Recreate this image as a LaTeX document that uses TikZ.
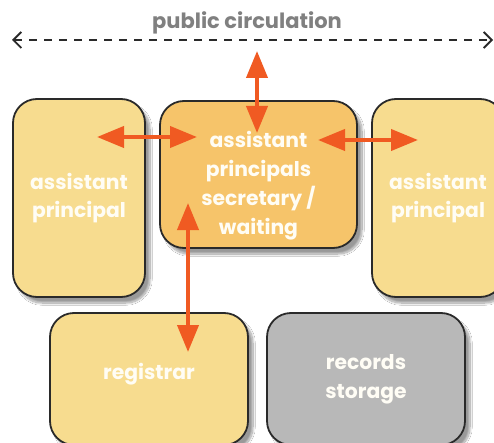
\documentclass[tikz,border=0pt]{standalone}
\usepackage{fontspec}
\setmainfont{Poppins}
\usetikzlibrary{arrows.meta,shadows.blur}
\definecolor{apfill}{HTML}{F7DC8F}
\definecolor{ctrfill}{HTML}{F6C46A}
\definecolor{grayfill}{HTML}{B8B8B8}
\definecolor{edge}{HTML}{2A2A2A}
\definecolor{orng}{HTML}{F05A22}
\definecolor{labelgray}{HTML}{808080}
\definecolor{txt}{HTML}{FFFDF5}
\tikzset{
  roomtext/.style={align=center, text=txt, font=\fontsize{20.3}{28.8}\selectfont\bfseries, inner sep=0pt},
  room/.style={draw=edge, line width=1.8pt, rounded corners=24pt, roomtext,
    blur shadow={shadow xshift=5pt, shadow yshift=-6pt, shadow blur steps=14, shadow opacity=40}},
  link/.style={draw=orng, line width=4pt, {Triangle[length=27pt,width=21pt]}-{Triangle[length=27pt,width=21pt]}},
  circ/.style={draw=edge, line width=1.8pt, dash pattern=on 8pt off 7pt, {Straight Barb[length=8pt,width=16pt,line width=1.8pt]}-{Straight Barb[length=8pt,width=16pt,line width=1.8pt]}}
}
\begin{document}
\begin{tikzpicture}[x=1pt,y=-1pt]
\useasboundingbox (0,0) rectangle (494,443);
\clip (0,0) rectangle (494,443);
\fill[white] (0,0) rectangle (494,443);
\node[text=labelgray, font=\fontsize{21}{24}\selectfont\bfseries] (pc) at (247,23) {public circulation};
\coordinate (cl) at (12,40);
\coordinate (cr) at (493,40);
\draw[circ] (cl) -- (cr);

\node[room, fill=apfill, minimum width=132pt, minimum height=198pt] (apl) at (79,198) {assistant\\principal};
\node[room, fill=apfill, minimum width=132pt, minimum height=198pt] (apr) at (438,198) {assistant\\principal};
\node[room, fill=ctrfill, minimum width=197pt, minimum height=147pt] (sec) at (258.5,174.5) {};
\node[roomtext] (sect) at ([yshift=-11pt]sec.center) {assistant\\principals\\secretary /\\waiting};
\node[room, fill=apfill, minimum width=198pt, minimum height=132pt] (reg) at (149,379) {};
\node[roomtext] (regt) at ([yshift=5pt]reg.center) {registrar};
\node[room, fill=grayfill, minimum width=198pt, minimum height=132pt] (rec) at (366,379) {records\\storage};

\coordinate (a1) at (257,51);
\coordinate (a2) at (257,133);
\draw[link] (a1) -- (a2);
\coordinate (b1) at (97,137);
\coordinate (b2) at (197,137);
\draw[link] (b1) -- (b2);
\coordinate (c1) at (318,140);
\coordinate (c2) at (418,140);
\draw[link] (c1) -- (c2);
\coordinate (d1) at (188,203);
\coordinate (d2) at (188,352);
\draw[link] (d1) -- (d2);
\end{tikzpicture}
\end{document}
